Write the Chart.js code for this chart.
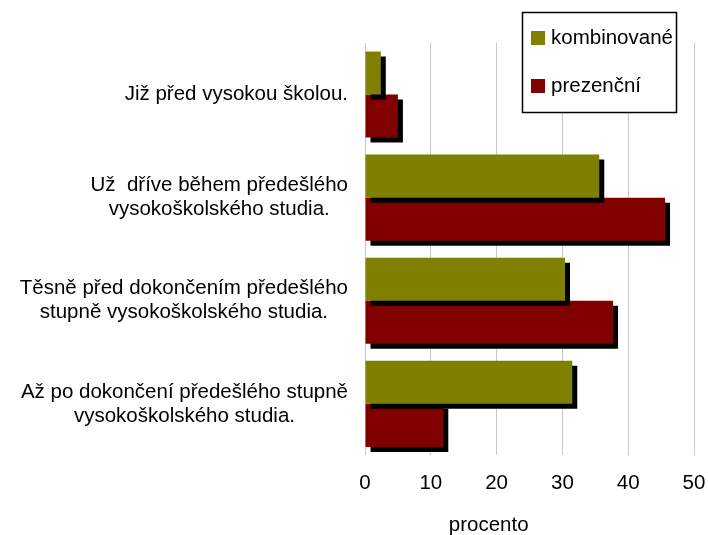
<!DOCTYPE html>
<html>
<head>
<meta charset="utf-8">
<script src="https://cdn.jsdelivr.net/npm/chart.js@4.4.1/dist/chart.umd.min.js"></script>
<style>
  body { margin: 0; background: #fff; }
  canvas { display: block; }
</style>
</head>
<body>
<canvas id="graphic" width="708" height="535"></canvas>
<script>
  // categories (each one split into lines as in the picture)
  const categories = [
    ["Již před vysokou školou."],
    ["Už  dříve během předešlého", "vysokoškolského studia."],
    ["Těsně před dokončením předešlého", "stupně vysokoškolského studia."],
    ["Až po dokončení předešlého stupně", "vysokoškolského studia."],
  ];
  const kombinovane = [2.4, 35.6, 30.4, 31.5];
  const prezencni = [5.0, 45.6, 37.7, 11.9];
  const xTicks = [0, 10, 20, 30, 40, 50];
  const xTitle = "procento";

  const FONT = "'Liberation Sans', Arial, sans-serif";

  // black drop shadow under the bars
  const shadowPlugin = {
    id: "shadow",
    beforeDatasetsDraw(chart) {
      const c = chart.ctx;
      c.save();
      c.shadowColor = "#000";
      c.shadowBlur = 0;
      c.shadowOffsetX = 5;
      c.shadowOffsetY = 5;
    },
    afterDatasetsDraw(chart) {
      chart.ctx.restore();
    },
  };

  // category labels: each block right aligned, lines centered inside it
  // plus the axis title, which sits left of the plot centre in the original
  const labelPlugin = {
    id: "catLabels",
    afterDraw(chart) {
      const c = chart.ctx;
      const yScale = chart.scales.y;
      c.save();
      c.font = "20.5px " + FONT;
      c.fillStyle = "#000";
      c.textAlign = "center";
      c.textBaseline = "middle";
      categories.forEach(function (lines, i) {
        let w = 0;
        lines.forEach(function (l) { w = Math.max(w, c.measureText(l).width); });
        const cx = chart.chartArea.left - 17 - w / 2;
        const cy = yScale.getPixelForValue(i);
        lines.forEach(function (l, j) {
          c.fillText(l, cx, cy + (j - (lines.length - 1) / 2) * 24);
        });
      });
      c.fillText(xTitle, chart.scales.x.getPixelForValue(18.8), 525);
      c.restore();
    },
  };

  // boxed legend in the top right corner
  const legendPlugin = {
    id: "boxLegend",
    afterDraw(chart) {
      const c = chart.ctx;
      c.save();
      c.fillStyle = "#fff";
      c.fillRect(522, 12, 154, 100);
      c.strokeStyle = "#000";
      c.lineWidth = 1.5;
      c.strokeRect(522.5, 12.5, 154, 100);
      c.font = "20.5px " + FONT;
      c.textBaseline = "middle";
      c.textAlign = "left";
      chart.data.datasets.forEach(function (ds, i) {
        const y = 38 + i * 48;
        c.fillStyle = ds.backgroundColor;
        c.fillRect(531, y - 7, 14, 14);
        c.fillStyle = "#000";
        c.fillText(ds.label, 551, y);
      });
      c.restore();
    },
  };

  var ctx = document.getElementById("graphic").getContext("2d");
  var chart = new Chart(ctx, {
    type: "bar",
    data: {
      labels: categories,
      datasets: [
        {
          label: "kombinované",
          backgroundColor: "#808000",
          data: kombinovane,
        },
        {
          label: "prezenční",
          backgroundColor: "#800000",
          data: prezencni,
        },
      ],
    },
    options: {
      indexAxis: "y",
      responsive: false,
      animation: false,
      categoryPercentage: 0.835,
      barPercentage: 1.0,
      layout: { padding: { left: 365, right: 0, top: 43, bottom: 23 } },
      plugins: {
        legend: { display: false },
        tooltip: { enabled: false },
      },
      scales: {
        y: { display: false },
        x: {
          min: 0,
          max: 50,
          afterBuildTicks(scale) {
            scale.ticks = xTicks.map(function (v) { return { value: v }; });
          },
          afterFit(scale) {
            scale.paddingRight = 14;
          },
          grid: { color: "#c8c8c8", drawTicks: false },
          border: { display: false },
          ticks: {
            padding: 16,
            color: "#000",
            font: { family: FONT, size: 20.5 },
          },
        },
      },
    },
    plugins: [shadowPlugin, labelPlugin, legendPlugin],
  });
</script>
</body>
</html>
